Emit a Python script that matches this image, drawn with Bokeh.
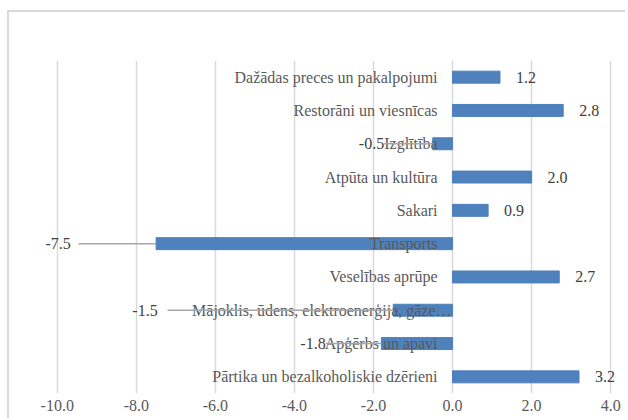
from bokeh.plotting import figure
from bokeh.models import (Range1d, FactorRange, ColumnDataSource, FixedTicker,
                          CustomJSTickFormatter, LabelSet)
from bokeh.core.properties import value
from bokeh.embed import file_html
from bokeh.resources import INLINE

# categories listed bottom to top
categories = [
    "Pārtika un bezalkoholiskie dzērieni",
    "Apģērbs un apavi",
    "Mājoklis, ūdens, elektroenerģija, gāze…",
    "Veselības aprūpe",
    "Transports",
    "Sakari",
    "Atpūta un kultūra",
    "Izglītība",
    "Restorāni un viesnīcas",
    "Dažādas preces un pakalpojumi",
]
values = [3.2, -1.8, -1.5, 2.7, -7.5, 0.9, 2.0, -0.5, 2.8, 1.2]
x_ticks = [-10, -8, -6, -4, -2, 0, 2, 4]

# style: manual shift (x units) of the negative data labels, leader-line gaps
label_shift = [0, -1.41, -5.96, 0, -2.16, 0, 0, -1.23, 0, 0]
line_gap = [0, 0.0, 0.25, 0, 0.2, 0, 0, 0.0, 0, 0]
cat_offset = [-15, -15, -1, -15, -15, -15, -15, -15, -15, -15]

FONT = "Liberation Serif"
BLUE = "#4f81bd"

# the frame is a little wider than the tick span so outer data labels are not clipped
p = figure(
    width=618, height=408,
    x_range=Range1d(-10.45, 4.3),
    y_range=FactorRange(factors=categories),
    output_backend="svg", toolbar_location=None,
    min_border_left=30, min_border_right=5, min_border_top=48, min_border_bottom=27,
    styles={"margin-left": "7px", "margin-top": "10px",
            "border-top": "2px solid #d9d9d9", "border-left": "2px solid #d9d9d9"},
)
p.outline_line_color = None
p.background_fill_color = "white"
p.border_fill_color = "white"

src = ColumnDataSource(dict(cat=categories, val=values, off=cat_offset))
p.hbar(y="cat", left=0, right="val", height=0.36, source=src,
       fill_color=BLUE, line_color=BLUE)

# category labels next to the zero line
p.text(x=0, y="cat", text="cat", x_offset="off", source=src,
       text_align="right", text_baseline="middle",
       text_font=value(FONT), text_font_size="16px", text_color="#595959")

# data labels
pos = [i for i, v in enumerate(values) if v >= 0]
neg = [i for i, v in enumerate(values) if v < 0]
pos_src = ColumnDataSource(dict(
    x=[values[i] for i in pos], y=[categories[i] for i in pos],
    t=["%.1f" % values[i] for i in pos]))
neg_src = ColumnDataSource(dict(
    x=[values[i] + label_shift[i] for i in neg],
    x0=[values[i] + label_shift[i] + line_gap[i] for i in neg],
    x1=[values[i] for i in neg],
    y=[categories[i] for i in neg],
    t=["%.1f" % values[i] for i in neg]))

p.segment(x0="x0", y0="y", x1="x1", y1="y", source=neg_src,
          line_color="#a6a6a6", line_width=1.5)
p.add_layout(LabelSet(x="x", y="y", text="t", x_offset=16, source=pos_src,
                      text_align="left", text_baseline="middle",
                      text_font=value(FONT), text_font_size="16px",
                      text_color="#404040"))
p.add_layout(LabelSet(x="x", y="y", text="t", source=neg_src,
                      text_align="right", text_baseline="middle",
                      text_font=value(FONT), text_font_size="16px",
                      text_color="#404040"))

# axes
p.yaxis.visible = False
ax = p.xaxis[0]
ax.ticker = FixedTicker(ticks=x_ticks)
ax.formatter = CustomJSTickFormatter(code="return tick.toFixed(1);")
ax.axis_line_color = None
ax.major_tick_line_color = None
ax.minor_tick_line_color = None
ax.major_tick_out = 0
ax.major_label_standoff = 6
ax.major_label_text_font = FONT
ax.major_label_text_font_size = "16px"
ax.major_label_text_color = "#595959"

p.xgrid.grid_line_color = "#d9d9d9"
p.xgrid.grid_line_width = 1.5
p.ygrid.grid_line_color = None

open("out.html", "w").write(file_html(p, INLINE))
